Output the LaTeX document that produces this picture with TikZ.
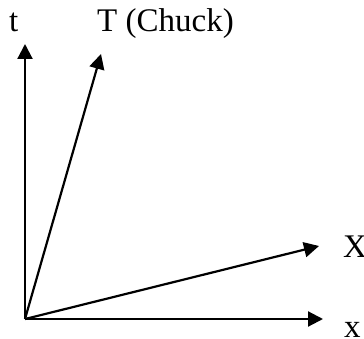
\documentclass[tikz,border=0pt]{standalone}
\usepackage{fontspec}
\setmainfont{Liberation Serif}
\usetikzlibrary{arrows.meta}
\begin{document}
\begin{tikzpicture}[x=1pt,y=-1pt,
  axis/.style={line width=2.2pt,-{Triangle[length=15pt,width=15pt]}},
  lbl/.style={font=\fontsize{33}{36}\selectfont,inner sep=0pt,anchor=base west}]
\useasboundingbox (0,0) rectangle (364,339);
\coordinate (O) at (25,319);
\coordinate (tend) at (25,44);
\coordinate (Tend) at (101,54);
\coordinate (Xend) at (319,246);
\coordinate (xend) at (323,319);
\draw[axis] (O) -- (tend);
\draw[axis] (O) -- (Tend);
\draw[axis] (O) -- (Xend);
\draw[axis] (O) -- (xend);
\node[lbl] (tl) at (9,32) {t};
\node[lbl] (Tl) at (97,32) {T (Chuck)};
\node[lbl] (Xl) at (343,258) {X};
\node[lbl] (xl) at (344,337) {x};
\end{tikzpicture}
\end{document}
